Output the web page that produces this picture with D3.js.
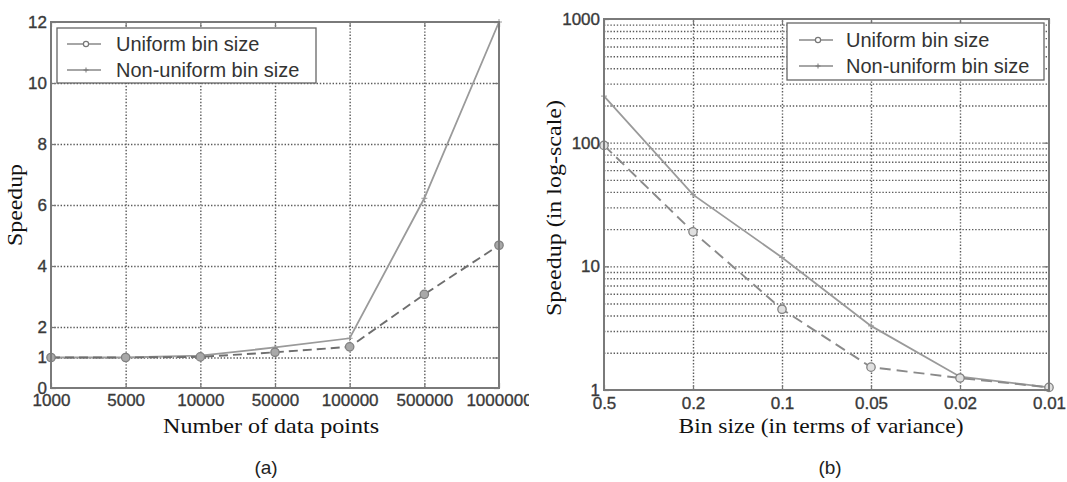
<!DOCTYPE html>
<html><head><meta charset="utf-8">
<script src="https://cdn.jsdelivr.net/npm/d3@7"></script>
<style>body{margin:0;background:#fff}svg{display:block}</style>
</head><body>
<svg id="c" width="1067" height="482"></svg>
<script>
// ---- data ----
const catsA = ["1000","5000","10000","50000","100000","500000","1000000"];
const uniformA = [1, 1, 1.02, 1.17, 1.35, 3.07, 4.68];
const nonUniformA = [1, 1, 1.06, 1.33, 1.63, 6.22, 12];
const yTicksA = [0, 1, 2, 4, 6, 8, 10, 12];

const catsB = ["0.5","0.2","0.1","0.05","0.02","0.01"];
const uniformB = [95, 19, 4.5, 1.53, 1.25, 1.05];
const nonUniformB = [238, 38, 11.8, 3.3, 1.28, 1.05];
const yTicksB = [1, 10, 100, 1000];

const legendLabels = ["Uniform bin size", "Non-uniform bin size"];

const svg = d3.select("#c");
const sans = "'Liberation Sans', Arial, sans-serif";
const serif = "'Liberation Serif', 'Times New Roman', serif";

function panel(o) {
  const g = svg.append("g");
  const {x, y, L, R, T, B} = o;
  // grid
  const gridH = g.append("g").attr("transform", `translate(${L},0)`)
    .call(d3.axisLeft(y).tickValues(o.gridY).tickSize(-(R - L)).tickFormat(""));
  const gridV = g.append("g").attr("transform", `translate(0,${B})`)
    .call(d3.axisBottom(x).tickValues(o.cats.slice(1, -1)).tickSize(-(B - T)).tickFormat(""));
  [gridH, gridV].forEach(s => {
    s.select(".domain").remove();
    s.selectAll("line").attr("class", "grid").attr("stroke", "#5a5a5a").attr("stroke-width", 1.4).attr("stroke-dasharray", "1.4,1.8");
  });
  // inner ticks on all four sides
  const tg = g.append("g");
  tg.append("g").attr("transform", `translate(0,${B})`).call(d3.axisBottom(x).tickValues(o.cats).tickSize(-5).tickFormat(""));
  tg.append("g").attr("transform", `translate(0,${T})`).call(d3.axisTop(x).tickValues(o.cats).tickSize(-5).tickFormat(""));
  tg.append("g").attr("transform", `translate(${L},0)`).call(d3.axisLeft(y).tickValues(o.yTicks).tickSize(-5).tickFormat(""));
  tg.append("g").attr("transform", `translate(${R},0)`).call(d3.axisRight(y).tickValues(o.yTicks).tickSize(-5).tickFormat(""));
  tg.selectAll(".domain").remove();
  tg.selectAll("line").attr("stroke", "#777").attr("stroke-width", 1.2);

  // series
  const line = d3.line().x((d, i) => x(o.cats[i])).y(d => y(d));
  g.append("path").datum(o.non).attr("d", line).attr("fill", "none")
    .attr("stroke", "#9a9a9a").attr("stroke-width", 1.8);
  g.append("path").datum(o.uni).attr("d", line).attr("fill", "none")
    .attr("stroke", o.dashColor).attr("stroke-width", 1.9).attr("stroke-dasharray", o.dash);
  g.selectAll(".plus").data(o.non).enter().append("path")
    .attr("d", (d, i) => `M${x(o.cats[i]) - 3},${y(d)}h6M${x(o.cats[i])},${y(d) - 3}v6`)
    .attr("stroke", "#999").attr("stroke-width", 1);
  g.selectAll(".circ").data(o.uni).enter().append("circle")
    .attr("cx", (d, i) => x(o.cats[i])).attr("cy", d => y(d)).attr("r", 4.2)
    .attr("fill", o.circFill).attr("stroke", "#808080").attr("stroke-width", 1.3);

  // box
  g.append("rect").attr("x", L).attr("y", T).attr("width", R - L).attr("height", B - T)
    .attr("fill", "none").attr("stroke", "#7a7a7a").attr("stroke-width", 2);

  // tick labels
  const clipId = "clip" + o.id;
  svg.append("clipPath").attr("id", clipId).append("rect")
    .attr("x", L - 60).attr("y", 0).attr("width", o.clipRight - (L - 60)).attr("height", 482);
  const xa = g.append("g").attr("transform", `translate(0,${B})`).attr("clip-path", `url(#${clipId})`)
    .call(d3.axisBottom(x).tickValues(o.cats).tickSize(0).tickPadding(o.xPad));
  const ya = g.append("g").attr("transform", `translate(${L},0)`)
    .call(d3.axisLeft(y).tickValues(o.yTicks).tickSize(0).tickPadding(4).tickFormat(o.yFmt));
  [xa, ya].forEach(s => {
    s.select(".domain").remove();
    s.selectAll("text").attr("font-family", sans).attr("font-size", 17).attr("fill", "#3a3a3a")
      .attr("stroke", "#3a3a3a").attr("stroke-width", 0.35);
  });

  // titles
  g.append("text").attr("x", o.xTitleX).attr("y", 433).attr("text-anchor", "middle")
    .attr("font-family", serif).attr("font-size", 21).attr("fill", "#111")
    .attr("textLength", o.xTitleW).attr("lengthAdjust", "spacingAndGlyphs").text(o.xTitle);
  g.append("text").attr("transform", `translate(${o.yTitleX},${o.yTitleY}) rotate(-90)`)
    .attr("text-anchor", "middle").attr("font-family", serif).attr("font-size", 21)
    .attr("textLength", o.yTitleW).attr("lengthAdjust", "spacingAndGlyphs")
    .attr("fill", "#111").text(o.yTitle);
  g.append("text").attr("x", o.tagX).attr("y", 474).attr("text-anchor", "middle")
    .attr("font-family", sans).attr("font-size", 19).attr("fill", "#222").text(o.tag);

  // legend
  const lg = o.legend;
  g.append("rect").attr("x", lg.x).attr("y", lg.y).attr("width", lg.w).attr("height", lg.h)
    .attr("fill", "#fff").attr("stroke", "#666").attr("stroke-width", 1.3);
  legendLabels.forEach((lab, i) => {
    const cy = lg.rows[i];
    g.append("line").attr("x1", lg.lx1).attr("x2", lg.lx2).attr("y1", cy).attr("y2", cy)
      .attr("stroke", "#888").attr("stroke-width", 1.3);
    const mx = (lg.lx1 + lg.lx2) / 2 + 2;
    if (i === 0) {
      g.append("circle").attr("cx", mx).attr("cy", cy).attr("r", 2.6)
        .attr("fill", "#fff").attr("stroke", "#777").attr("stroke-width", 1.2);
    } else {
      g.append("path").attr("d", `M${mx - 2.5},${cy}h5M${mx},${cy - 2.5}v5`).attr("stroke", "#777").attr("stroke-width", 1);
    }
    g.append("text").attr("x", lg.tx).attr("y", cy + 7).attr("font-family", sans)
      .attr("font-size", 20).attr("fill", "#333").text(lab);
  });
}

// ---- panel (a) ----
const LA = 51, RA = 499, TA = 22, BA = 388;
panel({
  id: "a", cats: catsA, uni: uniformA, non: nonUniformA, yTicks: yTicksA,
  gridY: yTicksA.filter(v => v > 0 && v < 12),
  x: d3.scalePoint().domain(catsA).range([LA, RA]).padding(0),
  y: d3.scaleLinear().domain([0, 12]).range([BA, TA]),
  L: LA, R: RA, T: TA, B: BA, clipRight: 529, xPad: 6,
  yFmt: d3.format("d"), dash: "9,5", dashColor: "#6e6e6e", circFill: "#a8a8a8",
  xTitle: "Number of data points", xTitleX: 271, xTitleW: 216,
  yTitle: "Speedup", yTitleX: 22, yTitleY: 205, yTitleW: 82, tag: "(a)", tagX: 266,
  legend: {x: 57, y: 28, w: 259, h: 55, rows: [44, 70], lx1: 67, lx2: 101, tx: 116}
});

// ---- panel (b) ----
const LB = 604, RB = 1049, TB = 19, BB = 390;
const yB = d3.scaleLog().domain([1, 1000]).range([BB, TB]);
const minorB = [];
yTicksB.slice(0, -1).forEach(dec => { for (let k = 1; k <= 9; k++) if (dec * k > 1) minorB.push(dec * k); });
panel({
  id: "b", cats: catsB, uni: uniformB, non: nonUniformB, yTicks: yTicksB,
  gridY: minorB,
  x: d3.scalePoint().domain(catsB).range([LB, RB]).padding(0),
  y: yB,
  L: LB, R: RB, T: TB, B: BB, clipRight: 1067, xPad: 7,
  yFmt: d3.format("d"), dash: "11,6", dashColor: "#8a8a8a", circFill: "#e0e0e0",
  xTitle: "Bin size (in terms of variance)", xTitleX: 821, xTitleW: 285,
  yTitle: "Speedup (in log-scale)", yTitleX: 561, yTitleY: 208, yTitleW: 216, tag: "(b)", tagX: 830,
  legend: {x: 787, y: 23, w: 257, h: 57, rows: [40, 66], lx1: 799, lx2: 833, tx: 846}
});
</script>
</body></html>
